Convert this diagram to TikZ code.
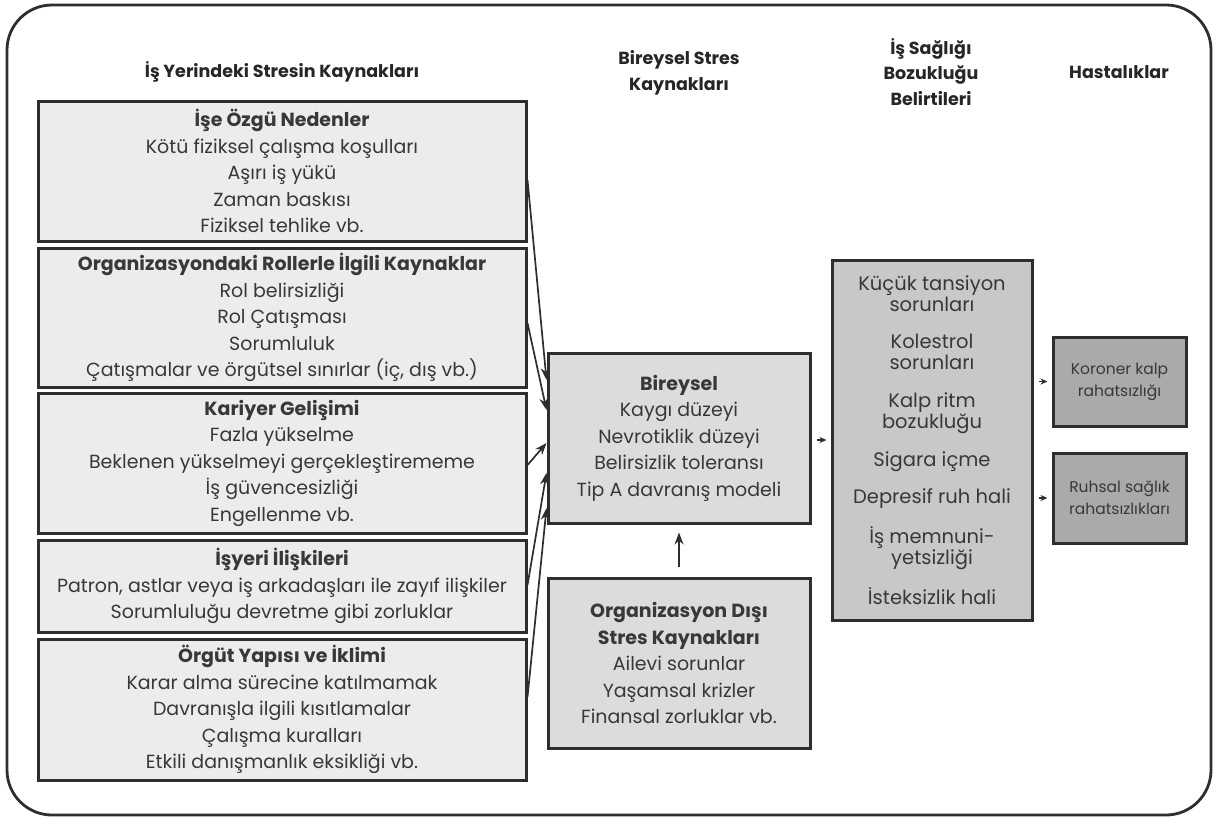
\documentclass[tikz,border=0pt]{standalone}
\usepackage{fontspec}
\setmainfont{Poppins}
\usetikzlibrary{arrows.meta,positioning}
\definecolor{edge}{HTML}{2E2E2E}
\definecolor{txt}{HTML}{383838}
\definecolor{fillA}{HTML}{ECECEC}
\definecolor{fillB}{HTML}{DCDCDC}
\definecolor{fillC}{HTML}{C8C8C8}
\definecolor{fillD}{HTML}{AAAAAA}
\begin{document}
\begin{tikzpicture}[x=1pt,y=-1pt,
        box/.style = {draw=edge, line width=3pt, inner sep=0pt,
            align=center, text=txt,
            font=\fontsize{19}{26.5}\selectfont},
        src/.style = {box, fill=fillA, minimum width=488pt},
        ind/.style = {box, fill=fillB, minimum width=262pt},
        head/.style = {align=center, text=black!85,
            font=\bfseries\fontsize{17.5}{25.5}\selectfont},
        arr/.style = {draw=edge, line width=1.7pt,
            -{Stealth[length=12pt,width=9pt]}},
        sarr/.style = {draw=edge, line width=1.5pt,
            -{Stealth[length=7pt,width=6pt]}}]

    \useasboundingbox (0,0) rectangle (1217,820);

    % Frame
    \draw[edge, line width=2.8pt, rounded corners=45pt] (7,5) rectangle (1211,815);

    % Column titles
    \node[head] (h1) at (282,72) {İş Yerindeki Stresin Kaynakları};
    \node[head] (h2) at (679,73) {Bireysel Stres\\Kaynakları};
    \node[head] (h3) at (931,72) {İş Sağlığı\\Bozukluğu\\Belirtileri};
    \node[head] (h4) at (1119,72) {Hastalıklar};

    % Sources at work
    \node[src, minimum height=140pt] (ise) at (282,171)
        {\textbf{İşe Özgü Nedenler}\\Kötü fiziksel çalışma koşulları\\Aşırı iş yükü\\Zaman baskısı\\Fiziksel tehlike vb.};
    \node[src, minimum height=139pt] (rol) at (282,317.5)
        {\textbf{Organizasyondaki Rollerle İlgili Kaynaklar}\\Rol belirsizliği\\Rol Çatışması\\Sorumluluk\\Çatışmalar ve örgütsel sınırlar (iç, dış vb.)};
    \node[src, minimum height=140pt] (kar) at (282,463)
        {\textbf{Kariyer Gelişimi}\\Fazla yükselme\\Beklenen yükselmeyi gerçekleştirememe\\İş güvencesizliği\\Engellenme vb.};
    \node[src, minimum height=92pt] (isy) at (282,586)
        {\textbf{İşyeri İlişkileri}\\Patron, astlar veya iş arkadaşları ile zayıf ilişkiler\\Sorumluluğu devretme gibi zorluklar};
    \node[src, minimum height=141pt] (org) at (282,709.5)
        {\textbf{Örgüt Yapısı ve İklimi}\\Karar alma sürecine katılmamak\\Davranışla ilgili kısıtlamalar\\Çalışma kuralları\\Etkili danışmanlık eksikliği vb.};

    % Individual
    \node[ind, minimum height=170pt] (bir) at (679,438)
        {\textbf{Bireysel}\\Kaygı düzeyi\\Nevrotiklik düzeyi\\Belirsizlik toleransı\\Tip A davranış modeli};
    \node[ind, minimum height=170pt] (dis) at (679,663)
        {\textbf{Organizasyon Dışı}\\\textbf{Stres Kaynakları}\\Ailevi sorunlar\\Yaşamsal krizler\\Finansal zorluklar vb.};

    % Symptoms
    \node[box, fill=fillC, minimum width=200pt, minimum height=360pt,
        font=\fontsize{19.5}{21}\selectfont] (sym) at (932,440)
        {Küçük tansiyon\\sorunları\\[16.7pt]Kolestrol\\sorunları\\[16.7pt]Kalp ritm\\bozukluğu\\[16.7pt]Sigara içme\\[16.7pt]Depresif ruh hali\\[16.7pt]İş memnuni-\\yetsizliği\\[16.7pt]İsteksizlik hali};

    % Diseases
    \node[box, fill=fillD, minimum width=133pt, minimum height=89pt,
        font=\fontsize{15.5}{22}\selectfont] (kor) at (1119.5,381.5)
        {Koroner kalp\\rahatsızlığı};
    \node[box, fill=fillD, minimum width=133pt, minimum height=90pt,
        font=\fontsize{15.5}{22}\selectfont] (ruh) at (1119.5,498)
        {Ruhsal sağlık\\rahatsızlıkları};

    % Connectors
    \draw[arr] ([yshift=-9pt]ise.east) -- ([yshift=58pt]bir.west);
    \draw[arr] ([yshift=-5.5pt]rol.east) -- ([yshift=28pt]bir.west);
    \draw[arr] ([yshift=-2pt]kar.east) -- ([yshift=-5pt]bir.west);
    \draw[arr] ([yshift=1pt]isy.east) -- ([yshift=-35pt]bir.west);
    \draw[arr] ([yshift=12.5pt]org.east) -- ([yshift=-70pt]bir.west);
    \draw[arr, line width=1.4pt] ([yshift=10pt]dis.north) -- ([yshift=-8pt]bir.south);
    \draw[sarr] ([xshift=5pt,yshift=-2pt]bir.east) -- ([xshift=-4pt]sym.west);
    \draw[sarr] ([xshift=5pt]kor.west -| sym.east) -- ([xshift=-4pt]kor.west);
    \draw[sarr] ([xshift=5pt]ruh.west -| sym.east) -- ([xshift=-4pt]ruh.west);

\end{tikzpicture}
\end{document}
